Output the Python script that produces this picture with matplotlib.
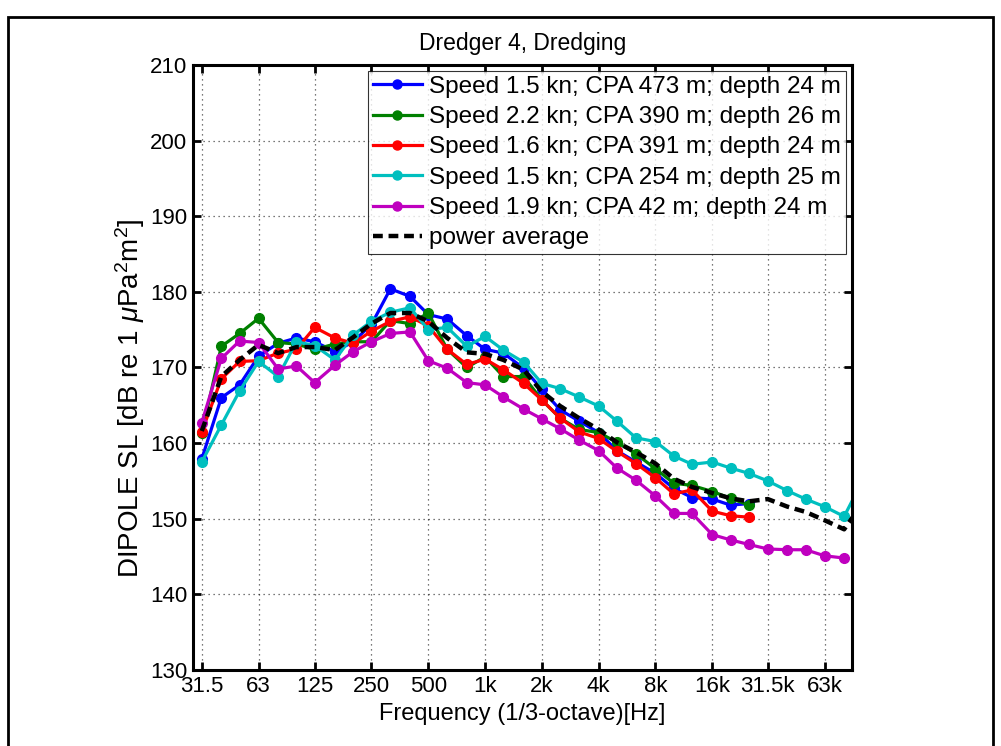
import matplotlib
matplotlib.use('Agg')
import matplotlib.pyplot as plt
from matplotlib.patches import Rectangle

plt.rcParams['font.family'] = ['Liberation Sans', 'DejaVu Sans']
plt.rcParams['mathtext.fontset'] = 'custom'
plt.rcParams['mathtext.rm'] = 'Liberation Sans'
plt.rcParams['mathtext.it'] = 'Liberation Sans:italic'

# --- Data (1/3-octave band centre frequencies, Hz) ---
freqs = [31.5, 40, 50, 63, 80, 100, 125, 160, 200, 250, 315, 400, 500, 630, 800,
         1000, 1250, 1600, 2000, 2500, 3150, 4000, 5000, 6300, 8000, 10000, 12500,
         16000, 20000, 25000, 31500, 40000, 50000, 63000, 80000, 100000]

sl_blue = [157.9, 166.0, 167.7, 171.5, 173.2, 173.9, 173.4, 172.1, 173.4, 175.7,
           180.4, 179.4, 177.0, 176.4, 174.2, 172.4, 171.9, 169.9, 167.1, 164.4,
           162.9, 161.4, 159.0, 157.5, 156.0, 154.0, 152.8, 152.6, 151.8, 152.0]
sl_green = [161.3, 172.8, 174.5, 176.5, 173.3, 173.1, 172.4, 173.1, 173.4, 173.4,
            176.2, 175.8, 177.2, 172.4, 170.0, 171.4, 168.8, 168.8, 165.7, 163.3,
            161.8, 161.4, 160.1, 158.6, 156.6, 154.7, 154.4, 153.6, 152.7, 151.8]
sl_red = [161.5, 168.5, 170.8, 170.9, 171.9, 172.4, 175.3, 173.9, 173.2, 174.8,
          176.1, 176.7, 175.5, 172.4, 170.4, 171.1, 169.7, 167.9, 165.7, 163.3,
          161.5, 160.6, 158.9, 157.3, 155.4, 153.3, 153.8, 151.0, 150.4, 150.2]
sl_cyan = [157.5, 162.4, 166.9, 170.8, 168.8, 173.4, 172.9, 171.0, 174.3, 176.1,
           177.3, 177.9, 175.0, 175.3, 172.8, 174.1, 172.3, 170.7, 167.9, 167.2,
           166.1, 164.9, 162.9, 160.7, 160.2, 158.3, 157.2, 157.5, 156.7, 156.0,
           155.0, 153.7, 152.6, 151.6, 150.3, 155.0]
sl_magenta = [162.7, 171.2, 173.5, 173.3, 169.8, 170.2, 168.0, 170.3, 172.1, 173.4,
              174.5, 174.7, 170.9, 169.9, 168.0, 167.7, 166.1, 164.5, 163.2, 161.9,
              160.4, 159.0, 156.7, 155.1, 153.0, 150.7, 150.7, 147.9, 147.2, 146.6,
              146.0, 145.9, 145.9, 145.1, 144.8]
sl_avg = [161.6, 168.8, 171.0, 173.0, 171.9, 172.7, 172.7, 172.3, 174.0, 175.8,
          177.2, 177.2, 176.1, 173.9, 172.0, 171.8, 171.0, 169.7, 166.8, 164.9,
          163.3, 161.8, 160.1, 158.8, 157.3, 155.3, 154.2, 153.4, 152.7, 152.3,
          152.6, 151.6, 150.9, 149.8, 148.6, 152.0]

labels = ["Speed 1.5 kn; CPA 473 m; depth 24 m",
          "Speed 2.2 kn; CPA 390 m; depth 26 m",
          "Speed 1.6 kn; CPA 391 m; depth 24 m",
          "Speed 1.5 kn; CPA 254 m; depth 25 m",
          "Speed 1.9 kn; CPA 42 m; depth 24 m"]
colors = [(0, 0, 1), (0, 0.5, 0), (1, 0, 0), (0, 0.75, 0.75), (0.75, 0, 0.75)]

tick_vals = [31.5, 63, 125, 250, 500, 1000, 2000, 4000, 8000, 16000, 31500, 63000]
tick_labels = ["31.5", "63", "125", "250", "500", "1k", "2k", "4k", "8k", "16k",
               "31.5k", "63k"]

# --- Plot ---
fig = plt.figure(figsize=(10.01, 7.46), dpi=100)
ax = fig.add_axes([0.1925, 0.1019, 0.6585, 0.811])

for series, lab, col in zip([sl_blue, sl_green, sl_red, sl_cyan, sl_magenta], labels, colors):
    ax.plot(freqs[:len(series)], series, '-o', color=col, lw=2.3, ms=7, label=lab)
ax.plot(freqs, sl_avg, '--', color='k', lw=3.2, dashes=(2.2, 1.3), label='power average')

ax.set_xscale('log')
ax.set_xlim(28.2, 87900)
ax.set_ylim(130, 210)
ax.set_xticks(tick_vals)
ax.set_xticklabels(tick_labels)
ax.minorticks_off()
ax.set_yticks(range(130, 211, 10))
ax.tick_params(direction='in', top=True, right=True, width=2, length=6,
               labelsize=16, pad=4)
ax.grid(True, linestyle=(0, (1, 3)), color='k', lw=0.9, alpha=0.7)
for s in ax.spines.values():
    s.set_linewidth(2.2)

ax.set_title("Dredger 4, Dredging", fontsize=16.5, pad=11)
ax.set_xlabel("Frequency (1/3-octave)[Hz]", fontsize=17, labelpad=5)
ax.set_ylabel(r"DIPOLE SL [dB re 1 $\mu$Pa$^2$m$^2$]", fontsize=20)
ax.yaxis.set_label_coords(-0.07, 0.45)

leg = ax.legend(loc='upper right', fontsize=17.5, frameon=True, fancybox=False,
                borderpad=0.2, labelspacing=0.34, handlelength=2.0,
                handletextpad=0.3, borderaxespad=0.25)
leg.get_frame().set_edgecolor('k')
leg.get_frame().set_linewidth(0.8)
for h in leg.get_lines()[:5]:
    h.set_markersize(6.5)

# outer frame around figure
fig.patches.append(Rectangle((0.008, -0.05), 0.984, 1.027,
                             transform=fig.transFigure, fill=False, lw=2,
                             edgecolor='k'))

fig.savefig("out.png", dpi=100)
